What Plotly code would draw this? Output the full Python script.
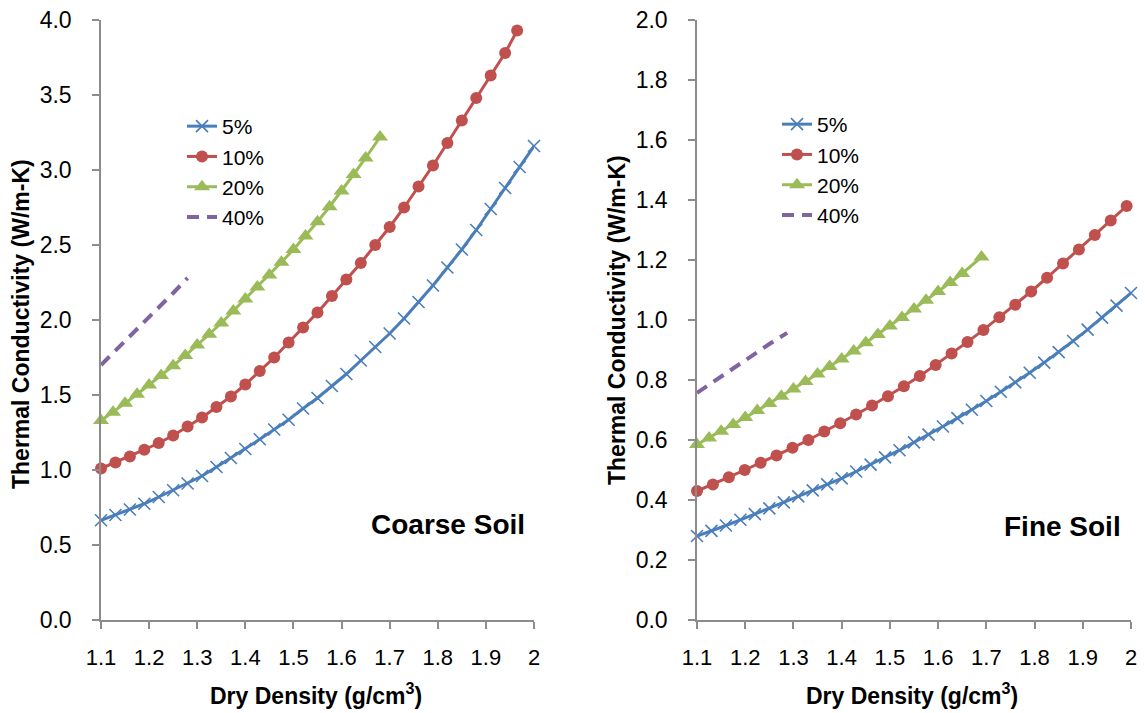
import plotly.graph_objects as go

# ---------------- data ----------------
series_names = ["5%", "10%", "20%", "40%"]
x_ticks = [1.1, 1.2, 1.3, 1.4, 1.5, 1.6, 1.7, 1.8, 1.9, 2.0]
x_tick_text = ["1.1", "1.2", "1.3", "1.4", "1.5", "1.6", "1.7", "1.8", "1.9", "2"]

# Coarse soil
coarse_x5 = [1.10, 1.13, 1.16, 1.19, 1.22, 1.25, 1.28, 1.31, 1.34, 1.37, 1.40, 1.43, 1.46, 1.49, 1.52,
             1.55, 1.58, 1.61, 1.64, 1.67, 1.70, 1.73, 1.76, 1.79, 1.82, 1.85, 1.88, 1.91, 1.94, 1.97, 2.00]
coarse_y5 = [0.665, 0.70, 0.737, 0.775, 0.82, 0.865, 0.91, 0.96, 1.02, 1.08, 1.14, 1.205, 1.27, 1.335, 1.41,
             1.48, 1.56, 1.64, 1.73, 1.82, 1.91, 2.01, 2.12, 2.23, 2.35, 2.47, 2.60, 2.74, 2.88, 3.02, 3.16]
coarse_x10 = [1.10, 1.13, 1.16, 1.19, 1.22, 1.25, 1.28, 1.31, 1.34, 1.37, 1.40, 1.43, 1.46, 1.49, 1.52,
              1.55, 1.58, 1.61, 1.64, 1.67, 1.70, 1.73, 1.76, 1.79, 1.82, 1.85, 1.88, 1.91, 1.94, 1.965]
coarse_y10 = [1.01, 1.05, 1.09, 1.135, 1.18, 1.23, 1.29, 1.35, 1.42, 1.49, 1.57, 1.66, 1.75, 1.85, 1.95,
              2.05, 2.16, 2.27, 2.38, 2.50, 2.62, 2.75, 2.89, 3.03, 3.18, 3.33, 3.48, 3.63, 3.78, 3.93]
coarse_x20 = [1.100, 1.125, 1.150, 1.175, 1.200, 1.225, 1.250, 1.275, 1.300, 1.325, 1.350, 1.375,
              1.400, 1.425, 1.450, 1.475, 1.500, 1.525, 1.550, 1.575, 1.600, 1.625, 1.650, 1.680]
coarse_y20 = [1.33, 1.385, 1.445, 1.505, 1.567, 1.63, 1.695, 1.763, 1.833, 1.905, 1.98, 2.06,
              2.14, 2.22, 2.30, 2.385, 2.47, 2.56, 2.655, 2.755, 2.86, 2.97, 3.08, 3.22]
coarse_x40 = [1.10, 1.13, 1.16, 1.19, 1.22, 1.25, 1.28]
coarse_y40 = [1.70, 1.795, 1.89, 1.985, 2.08, 2.18, 2.28]

# Fine soil
fine_x5 = [1.10, 1.13, 1.16, 1.19, 1.22, 1.25, 1.28, 1.31, 1.34, 1.37, 1.40, 1.43, 1.46, 1.49, 1.52,
           1.55, 1.58, 1.61, 1.64, 1.67, 1.70, 1.73, 1.76, 1.79, 1.82, 1.85, 1.88, 1.91, 1.94, 1.97, 2.00]
fine_y5 = [0.28, 0.297, 0.315, 0.334, 0.353, 0.372, 0.392, 0.412, 0.432, 0.452, 0.472, 0.495, 0.518, 0.542,
           0.566, 0.592, 0.618, 0.645, 0.673, 0.701, 0.73, 0.761, 0.792, 0.824, 0.858, 0.893, 0.93, 0.968,
           1.008, 1.048, 1.09]
fine_x10 = [1.100, 1.133, 1.166, 1.199, 1.232, 1.265, 1.298, 1.331, 1.364, 1.397, 1.430, 1.463, 1.496, 1.529,
            1.562, 1.595, 1.628, 1.661, 1.694, 1.727, 1.760, 1.793, 1.826, 1.859, 1.892, 1.925, 1.958, 1.991]
fine_y10 = [0.43, 0.452, 0.476, 0.50, 0.524, 0.548, 0.574, 0.60, 0.628, 0.656, 0.685, 0.715, 0.746, 0.779,
            0.813, 0.85, 0.888, 0.927, 0.967, 1.009, 1.051, 1.095, 1.141, 1.188, 1.235, 1.283, 1.332, 1.38]
fine_x20 = [1.100, 1.125, 1.150, 1.175, 1.200, 1.225, 1.250, 1.275, 1.300, 1.325, 1.350, 1.375,
            1.400, 1.425, 1.450, 1.475, 1.500, 1.525, 1.550, 1.575, 1.600, 1.625, 1.650, 1.690]
fine_y20 = [0.585, 0.607, 0.629, 0.652, 0.675, 0.698, 0.722, 0.746, 0.77, 0.795, 0.82, 0.845,
            0.87, 0.897, 0.924, 0.952, 0.98, 1.008, 1.037, 1.066, 1.095, 1.125, 1.155, 1.21]
fine_x40 = [1.10, 1.13, 1.16, 1.19, 1.22, 1.25, 1.287]
fine_y40 = [0.757, 0.79, 0.822, 0.855, 0.887, 0.92, 0.957]

# ---------------- style ----------------
BLUE, RED, GREEN, PURPLE = "#4A7EBB", "#C0504D", "#9BBB59", "#8064A2"
FONT = "Liberation Sans, Arial, sans-serif"
W, H = 1145, 713
AXIS_GRAY = "#8C8C8C"

fig = go.Figure()

def add_set(xs, ys, xref, yref, legend):
    (x5, x10, x20, x40), (y5, y10, y20, y40) = xs, ys
    fig.add_trace(go.Scatter(x=x5, y=y5, name=series_names[0], mode="lines+markers",
                             line=dict(color=BLUE, width=3),
                             marker=dict(symbol="x-thin", size=12, line=dict(color=BLUE, width=1.6)),
                             xaxis=xref, yaxis=yref, legend=legend, cliponaxis=False))
    fig.add_trace(go.Scatter(x=x10, y=y10, name=series_names[1], mode="lines+markers",
                             line=dict(color=RED, width=3),
                             marker=dict(symbol="circle", size=12, color=RED),
                             xaxis=xref, yaxis=yref, legend=legend, cliponaxis=False))
    fig.add_trace(go.Scatter(x=x20, y=y20, name=series_names[2], mode="lines+markers",
                             line=dict(color=GREEN, width=3),
                             marker=dict(symbol="triangle-up", size=14, color=GREEN),
                             xaxis=xref, yaxis=yref, legend=legend, cliponaxis=False))
    fig.add_trace(go.Scatter(x=x40, y=y40, name=series_names[3], mode="lines",
                             line=dict(color=PURPLE, width=4, dash="12px,8px"),
                             xaxis=xref, yaxis=yref, legend=legend, cliponaxis=False))

add_set((coarse_x5, coarse_x10, coarse_x20, coarse_x40),
        (coarse_y5, coarse_y10, coarse_y20, coarse_y40), "x", "y", "legend")
add_set((fine_x5, fine_x10, fine_x20, fine_x40),
        (fine_y5, fine_y10, fine_y20, fine_y40), "x2", "y2", "legend2")

def px_x(p):
    return p / W

def px_y(p):
    return 1 - p / H

xaxis_common = dict(range=[1.1, 2.0], tickvals=x_ticks, ticktext=x_tick_text,
                    showline=True, linecolor=AXIS_GRAY, linewidth=1.5, ticks="outside",
                    ticklen=7, tickcolor=AXIS_GRAY, tickwidth=1.5, showgrid=False, zeroline=False,
                    tickfont=dict(family=FONT, size=22, color="#000"), ticklabelstandoff=10,
                    fixedrange=True)
yaxis_common = dict(showline=True, linecolor=AXIS_GRAY, linewidth=1.5, ticks="outside",
                    ticklen=7, tickcolor=AXIS_GRAY, tickwidth=1.5, showgrid=False, zeroline=False,
                    tickfont=dict(family=FONT, size=23, color="#000"), ticklabelstandoff=16,
                    tickformat=".1f", fixedrange=True)

legend_font = dict(family=FONT, size=21, color="#000")
fig.update_layout(
    width=W, height=H, template="none",
    paper_bgcolor="white", plot_bgcolor="white",
    margin=dict(l=0, r=0, t=0, b=0, autoexpand=False),
    font=dict(family=FONT, color="#000"),
    xaxis=dict(domain=[px_x(101), px_x(534)], anchor="y", **xaxis_common),
    xaxis2=dict(domain=[px_x(697), px_x(1131)], anchor="y2", **xaxis_common),
    yaxis=dict(domain=[px_y(620), px_y(20)], anchor="x", range=[0, 4.0], dtick=0.5, **yaxis_common),
    yaxis2=dict(domain=[px_y(620), px_y(20)], anchor="x2", range=[0, 2.0], dtick=0.2, **yaxis_common),
    legend=dict(x=px_x(182), y=px_y(106), xanchor="left", yanchor="top",
                font=legend_font, bgcolor="rgba(0,0,0,0)", tracegroupgap=0),
    legend2=dict(x=px_x(777), y=px_y(104), xanchor="left", yanchor="top",
                 font=legend_font, bgcolor="rgba(0,0,0,0)", tracegroupgap=0),
    showlegend=True,
)

title_font = dict(family=FONT, size=23, color="#000")
annotations = [
    dict(text="<b>Thermal Conductivity (W/m-K)</b>", x=px_x(21), y=px_y(324), textangle=-90),
    dict(text="<b>Thermal Conductivity (W/m-K)</b>", x=px_x(617), y=px_y(320), textangle=-90),
    dict(text="<b>Dry Density (g/cm<sup>3</sup>)</b>", x=px_x(316), y=px_y(694)),
    dict(text="<b>Dry Density (g/cm<sup>3</sup>)</b>", x=px_x(912), y=px_y(694)),
]
for a in annotations:
    fig.add_annotation(xref="paper", yref="paper", xanchor="center", yanchor="middle",
                       showarrow=False, font=title_font, **a)

fig.add_annotation(text="<b>Coarse Soil</b>", xref="paper", yref="paper", x=px_x(448), y=px_y(524),
                   xanchor="center", yanchor="middle", showarrow=False,
                   font=dict(family=FONT, size=28, color="#000"))
fig.add_annotation(text="<b>Fine Soil</b>", xref="paper", yref="paper", x=px_x(1062), y=px_y(526),
                   xanchor="center", yanchor="middle", showarrow=False,
                   font=dict(family=FONT, size=28, color="#000"))

fig.write_html("out.html", config={"displayModeBar": False},
               post_script="document.body.style.margin='0';document.body.style.overflow='hidden';")
